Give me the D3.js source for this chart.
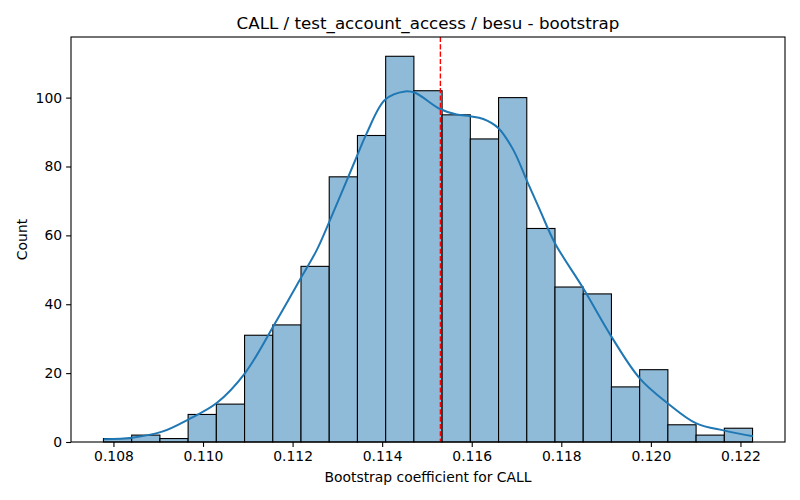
<!DOCTYPE html>
<html>
<head>
<meta charset="utf-8">
<script src="https://cdn.jsdelivr.net/npm/d3@7"></script>
<style>
  body { margin: 0; background: #fff; }
  svg { font-family: "DejaVu Sans", sans-serif; }
</style>
</head>
<body>
<svg id="chart" width="800" height="500"></svg>
<script>
// Histogram bins (23 equal bins)
const binStart = 0.107777;
const binEnd = 0.12227;
const counts = [1, 2, 1, 8, 11, 31, 34, 51, 77, 89, 112, 102, 95, 88, 100, 62, 45, 43, 16, 21, 5, 2, 4];
// KDE curve: [x, count]
const kdeX = [0.107784, 0.108417, 0.109086, 0.109679, 0.110312, 0.110943, 0.111574, 0.112207, 0.112542, 0.112838,
  0.113434, 0.113657, 0.114065, 0.114511, 0.114734, 0.115291, 0.115663, 0.115960, 0.116257, 0.116591,
  0.116925, 0.117237, 0.117521, 0.117855, 0.118486, 0.119119, 0.119750, 0.120381, 0.121015, 0.121645, 0.122277];
const kdeY = [0.8, 1.25, 3.0, 6.6, 11.4, 20.1, 33.7, 48.1, 55.8, 64.5,
  82.9, 89.7, 99.4, 101.8, 101.4, 96.7, 95.1, 94.6, 93.8, 91.2,
  84.9, 75.7, 67.4, 57.8, 44.7, 30.6, 18.5, 11.2, 5.4, 3.3, 1.7];
const meanLine = 0.1153;
const xTicks = [0.108, 0.110, 0.112, 0.114, 0.116, 0.118, 0.120, 0.122];
const yTicks = [0, 20, 40, 60, 80, 100];
const titleText = "CALL / test_account_access / besu - bootstrap";
const xLabel = "Bootstrap coefficient for CALL";
const yLabel = "Count";

const svg = d3.select("#chart");
const L = 71, R = 785, T = 37, B = 442;
const span = binEnd - binStart;
const x = d3.scaleLinear().domain([binStart - span * 0.05, binEnd + span * 0.05]).range([L, R]);
const yMax = d3.max(counts) * 1.05;
const y = d3.scaleLinear().domain([0, yMax]).range([B, T]);

const bw = span / counts.length;
const bins = counts.map((c, i) => ({ x0: binStart + i * bw, x1: binStart + (i + 1) * bw, c }));

svg.append("g").selectAll("rect").data(bins).join("rect")
  .attr("x", d => x(d.x0))
  .attr("y", d => y(d.c))
  .attr("width", d => x(d.x1) - x(d.x0))
  .attr("height", d => y(0) - y(d.c))
  .attr("fill", "#8fbbd9")
  .attr("stroke", "#000")
  .attr("stroke-width", 1.1);

const kde = kdeX.map((v, i) => [v, kdeY[i]]);
svg.append("path")
  .datum(kde)
  .attr("fill", "none")
  .attr("stroke", "#1f77b4")
  .attr("stroke-width", 2)
  .attr("d", d3.line().x(d => x(d[0])).y(d => y(d[1])).curve(d3.curveCatmullRom));

svg.append("line")
  .attr("x1", x(meanLine)).attr("x2", x(meanLine))
  .attr("y1", T).attr("y2", B)
  .attr("stroke", "red").attr("stroke-width", 1.4)
  .attr("stroke-dasharray", "5.1,2.2");

// axes
const xAxis = d3.axisBottom(x).tickValues(xTicks).tickFormat(d3.format(".3f")).tickSize(4.9).tickPadding(4);
const yAxis = d3.axisLeft(y).tickValues(yTicks).tickFormat(d3.format("d")).tickSize(4.9).tickPadding(4);
const gx = svg.append("g").attr("transform", `translate(0,${B})`).call(xAxis);
const gy = svg.append("g").attr("transform", `translate(${L},0)`).call(yAxis);
[gx, gy].forEach(g => {
  g.select(".domain").remove();
  g.selectAll("line").attr("stroke", "#000").attr("stroke-width", 1.1);
  g.selectAll("text").attr("font-size", "13.9px").attr("fill", "#000").attr("font-family", "DejaVu Sans");
});

svg.append("rect")
  .attr("x", L).attr("y", T).attr("width", R - L).attr("height", B - T)
  .attr("fill", "none").attr("stroke", "#000").attr("stroke-width", 1.1);

svg.append("text").attr("x", (L + R) / 2).attr("y", 29)
  .attr("text-anchor", "middle").attr("font-size", "16.7px").text(titleText);
svg.append("text").attr("x", (L + R) / 2).attr("y", 482)
  .attr("text-anchor", "middle").attr("font-size", "13.9px").text(xLabel);
svg.append("text").attr("transform", `translate(27,${(T + B) / 2}) rotate(-90)`)
  .attr("text-anchor", "middle").attr("font-size", "13.9px").text(yLabel);
</script>
</body>
</html>
